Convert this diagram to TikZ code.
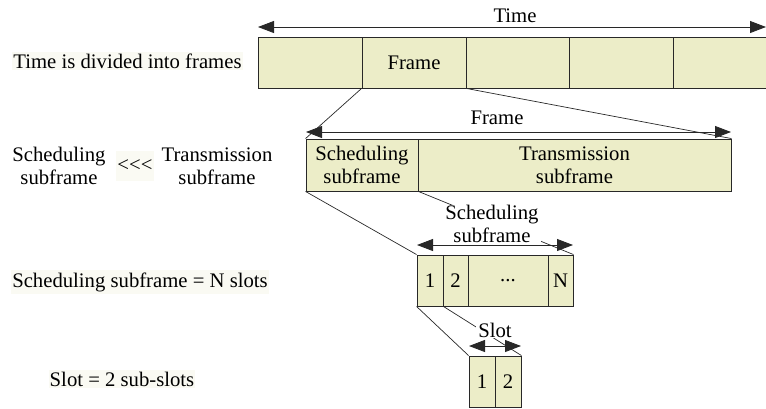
\documentclass[tikz,border=0pt]{standalone}
\usepackage{fontspec}
\setmainfont[Ligatures=NoCommon]{Liberation Serif}
\usetikzlibrary{arrows.meta}
\definecolor{cellfill}{RGB}{236,237,200}
\definecolor{labbg}{RGB}{250,250,243}
\definecolor{edge}{RGB}{40,40,40}
\begin{document}
\begin{tikzpicture}[x=1pt,y=-1pt,
  txt/.style={font=\fontsize{20.7}{23}\selectfont,inner sep=0pt,align=center},
  cell/.style={txt,draw=edge,line width=0.9pt,fill=cellfill,minimum height=51pt},
  lab/.style={txt,fill=labbg,inner xsep=1pt,inner ysep=2pt},
  dim/.style={{Triangle[length=16pt,width=12pt]}-{Triangle[length=16pt,width=12pt]},line width=0.8pt,draw=edge},
  lead/.style={line width=0.7pt,draw=edge}]
\useasboundingbox (0,0) rectangle (766,408);
% top row
\node[cell,minimum width=104pt] (c1) at (310,62.5) {};
\node[cell,minimum width=104pt] (c2) at (414,62.5) {Frame};
\node[cell,minimum width=103pt] (c3) at (517.5,62.5) {};
\node[cell,minimum width=104pt] (c4) at (621,62.5) {};
\node[cell,minimum width=104pt] (c5) at (725,62.5) {};
\coordinate (tA) at (258,27);
\coordinate (tB) at (766,27);
\draw[dim] (tA) -- (tB);
\node[txt] (time) at (515,16) {Time};
\node[lab] (l1) at (127.5,61) {Time is divided into frames};
% second row
\node[cell,minimum width=112pt,minimum height=52pt] (s1) at (362,165) {Scheduling\\subframe};
\node[cell,minimum width=313pt,minimum height=52pt] (s2) at (574.5,165) {Transmission\\subframe};
\coordinate (fA) at (306,132);
\coordinate (fB) at (731,132);
\draw[dim] (fA) -- (fB);
\node[txt] (frame) at (497,118) {Frame};
\draw[lead] (c2.south west) -- (s1.north west);
\draw[lead] (c2.south east) -- (s2.north east);
\node[txt] (l2a) at (59,166) {Scheduling\\subframe};
\node[lab,minimum height=30pt] (l2b) at (135,166) {{<}{<}{<}};
\node[txt] (l2c) at (217,166) {Transmission\\subframe};
% third row
\node[cell,minimum width=26pt] (n1) at (430,280.5) {1};
\node[cell,minimum width=25pt] (n2) at (455.5,280.5) {2};
\node[cell,minimum width=80pt] (n3) at (508,280.5) {{.}{.}{.}};
\node[cell,minimum width=25pt] (n4) at (560.5,280.5) {N};
\coordinate (sA) at (417,245);
\coordinate (sB) at (573,245);
\draw[dim] (sA) -- (sB);
\draw[lead] (s1.south west) -- (n1.north west);
\draw[lead] (s1.south east) -- (n4.north east);
\node[txt,fill=white,inner xsep=2pt] (sslab) at (492,224) {Scheduling\\subframe};
\node[lab] (l3) at (140,282) {Scheduling subframe = N slots};
% fourth row
\node[cell,minimum width=26pt] (m1) at (482,381.5) {1};
\node[cell,minimum width=26pt] (m2) at (508,381.5) {2};
\coordinate (pA) at (469,346);
\coordinate (pB) at (521,346);
\draw[dim] (pA) -- (pB);
\draw[lead] (n1.south west) -- (m1.north west);
\draw[lead] (n1.south east) -- (m2.north east);
\node[txt,fill=white,inner xsep=2pt,inner ysep=1pt] (slot) at (495,330) {Slot};
\node[lab] (l4) at (122,379) {Slot = 2 sub-slots};
\end{tikzpicture}
\end{document}
